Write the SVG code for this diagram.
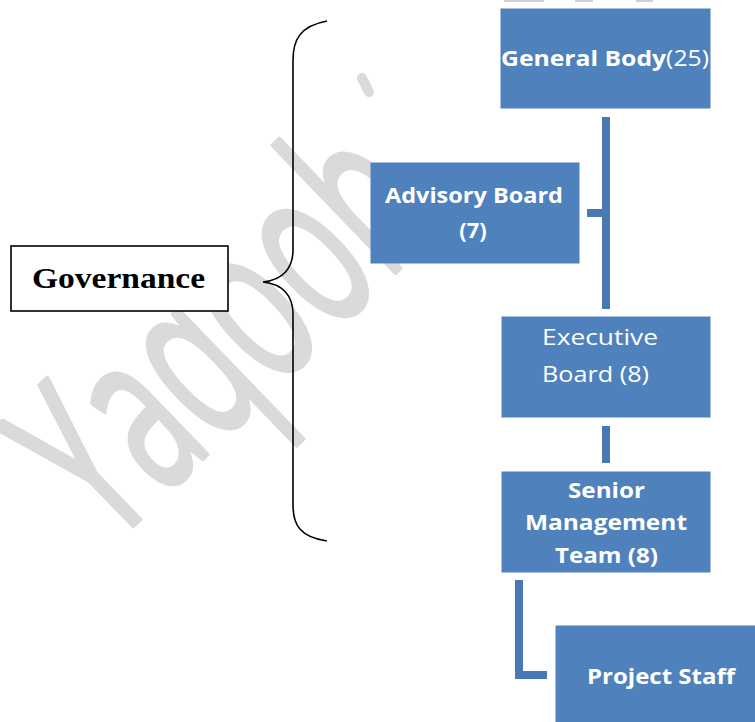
<svg xmlns="http://www.w3.org/2000/svg" width="755" height="722" viewBox="0 0 755 722">
<style>
.box{fill:#4f81bd;stroke:#4f81bd;stroke-width:1}
.t{font-family:"Open Sans","Noto Sans",sans-serif;fill:#ffffff;font-size:22px}
.b{font-weight:bold}
.conn{fill:none;stroke:#4a78b2;stroke-width:8}
.wm{font-family:"Open Sans","Noto Sans",sans-serif;fill:#dadada;stroke:#dadada;stroke-width:5;stroke-linejoin:round;font-size:232px}
</style>
<rect width="755" height="722" fill="#ffffff"/>
<g id="top-marks" fill="#d0d0d0">
<rect x="504" y="0" width="40" height="2"/>
<rect x="575" y="0" width="18" height="2"/>
<rect x="636" y="0" width="17" height="2"/>
</g>
<g id="watermark">
<text class="wm" transform="translate(110,548) rotate(-44)" textLength="465" lengthAdjust="spacingAndGlyphs">Yaqoob</text>
<path d="M362,78 L369,92" stroke="#dadada" stroke-width="10" stroke-linecap="round"/>
</g>
<g id="brace">
<path d="M327,21 C300,26 293,40 293,60 L293,250 C293,268 283,280 263,282 C283,284 293,296 293,314 L293,505 C293,525 300,537 327,541" fill="none" stroke="#000" stroke-width="1.6"/>
</g>
<g id="governance">
<rect x="11" y="246" width="217" height="65" fill="#fff" stroke="#000" stroke-width="1.6"/>
<text x="32" y="288" font-family="'Liberation Serif',serif" font-weight="bold" font-size="30" textLength="173" lengthAdjust="spacingAndGlyphs">Governance</text>
</g>
<g id="connectors">
<path class="conn" d="M606,117 V309"/>
<path class="conn" d="M587,213 H606"/>
<path class="conn" d="M606,426 V463"/>
<path class="conn" d="M519,580 V675 H547"/>
</g>
<g id="general-body">
<rect class="box" x="501" y="9" width="209" height="99"/>
<text class="t b" x="501" y="66" font-size="24" textLength="208" lengthAdjust="spacingAndGlyphs">General Body<tspan font-weight="normal">(25)</tspan></text>
</g>
<g id="advisory-board">
<rect class="box" x="371" y="163" width="208" height="100"/>
<text class="t b" x="385" y="203" textLength="178" lengthAdjust="spacingAndGlyphs">Advisory Board</text>
<text class="t b" x="473" y="238" text-anchor="middle">(7)</text>
</g>
<g id="executive-board">
<rect class="box" x="502" y="317" width="208" height="100"/>
<text class="t" x="542" y="345" textLength="116" lengthAdjust="spacingAndGlyphs">Executive</text>
<text class="t" x="542" y="382" textLength="107" lengthAdjust="spacingAndGlyphs">Board (8)</text>
</g>
<g id="senior-management">
<rect class="box" x="502" y="472" width="208" height="100"/>
<text class="t b" x="568" y="498" textLength="77" lengthAdjust="spacingAndGlyphs">Senior</text>
<text class="t b" x="525" y="530" textLength="162" lengthAdjust="spacingAndGlyphs">Management</text>
<text class="t b" x="555" y="563" textLength="103" lengthAdjust="spacingAndGlyphs">Team (8)</text>
</g>
<g id="project-staff">
<rect class="box" x="556" y="626" width="210" height="110"/>
<text class="t b" x="587" y="684" textLength="148" lengthAdjust="spacingAndGlyphs">Project Staff</text>
</g>
</svg>
